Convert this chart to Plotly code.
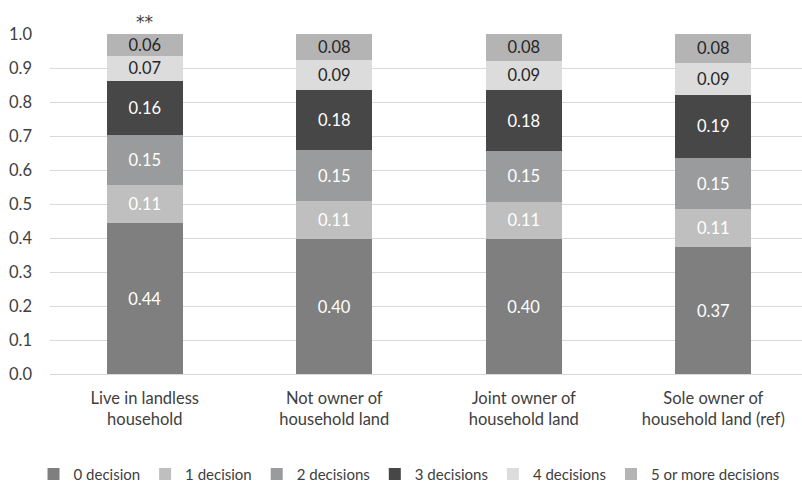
import plotly.graph_objects as go

categories = ["Live in landless<br>household", "Not owner of<br>household land",
              "Joint owner of<br>household land", "Sole owner of<br>household land (ref)"]
series_names = ["0 decision", "1 decision", "2 decisions", "3 decisions", "4 decisions", "5 or more decisions"]
d0 = [0.443, 0.396, 0.396, 0.373]
d1 = [0.112, 0.112, 0.111, 0.111]
d2 = [0.147, 0.150, 0.150, 0.152]
d3 = [0.160, 0.177, 0.177, 0.186]
d4 = [0.074, 0.088, 0.088, 0.094]
d5 = [0.064, 0.077, 0.078, 0.084]
values = [d0, d1, d2, d3, d4, d5]
colors = ["#7f7f7f", "#bfbfbf", "#9a9b9d", "#474748", "#dcdcdd", "#b4b4b5"]
text_colors = ["#ffffff", "#ffffff", "#ffffff", "#ffffff", "#262626", "#262626"]
y_ticks = [0.0, 0.1, 0.2, 0.3, 0.4, 0.5, 0.6, 0.7, 0.8, 0.9, 1.0]

FONT = "Lato"
FS = 16.5
fig = go.Figure()
for name, vals, c, tc in zip(series_names, values, colors, text_colors):
    fig.add_trace(go.Bar(
        x=list(range(len(categories))), y=vals, name=name,
        marker=dict(color=c, line=dict(width=0)),
        texttemplate="%{y:.2f}", textposition="inside", insidetextanchor="middle",
        textangle=0, constraintext="none",
        textfont=dict(family=FONT, size=FS, color=tc),
        hoverinfo="skip",
    ))

fig.add_annotation(x=0, y=1.0, xref="x", yref="y", text="**", showarrow=False,
                   yanchor="bottom", yshift=0, font=dict(family="DejaVu Sans", size=17, color="#404040"))

fig.update_layout(
    barmode="stack", bargap=0.6,
    width=802, height=484,
    margin=dict(l=50, r=0, t=34, b=110),
    paper_bgcolor="white", plot_bgcolor="white",
    font=dict(family=FONT, size=FS, color="#404040"),
    showlegend=True,
    legend=dict(orientation="h", xref="container", yref="container", x=0.51, y=0.02,
                xanchor="center", yanchor="middle", traceorder="normal",
                font=dict(family=FONT, size=15, color="#404040"),
                itemwidth=30, tracegroupgap=0),
)
fig.update_xaxes(range=[-0.5, 3.468], tickmode="array", tickvals=list(range(len(categories))),
                 ticktext=categories, showgrid=False, zeroline=False, showline=False,
                 ticks="", ticklabelstandoff=12, tickfont=dict(family=FONT, size=FS, color="#404040"))
fig.update_yaxes(range=[0, 1.0], tickvals=y_ticks, tickformat=".1f", showgrid=True,
                 gridcolor="#d9d9d9", gridwidth=1, zeroline=True, zerolinecolor="#d9d9d9",
                 zerolinewidth=1, showline=False, ticks="", ticklabelstandoff=17,
                 tickfont=dict(family=FONT, size=FS, color="#404040"))

fig.write_html("out.html")
